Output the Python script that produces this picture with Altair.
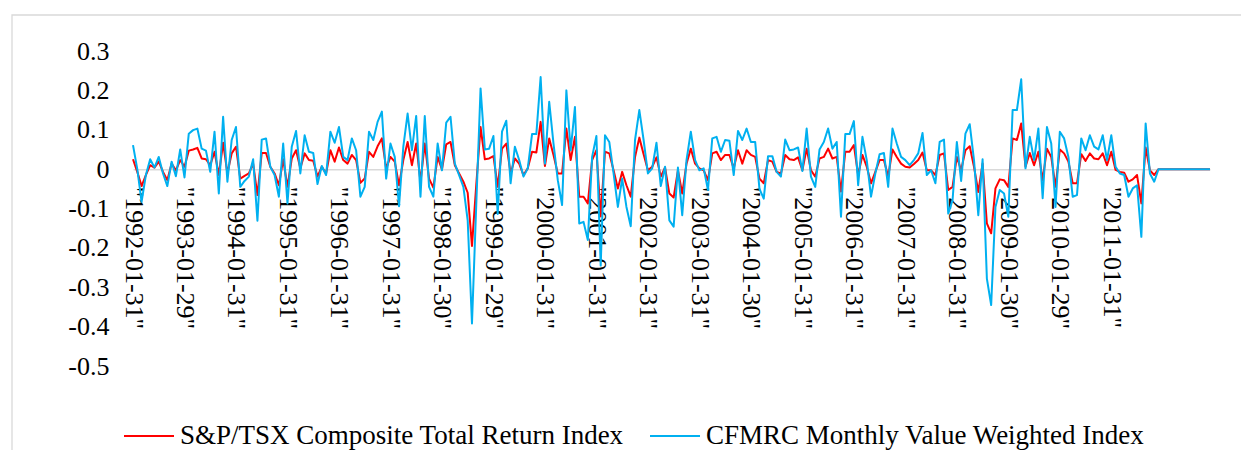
import altair as alt
import pandas as pd

# ---------------- data ----------------
year_labels = ['"1992-01-31"', '"1993-01-29"', '"1994-01-31"', '"1995-01-31"',
               '"1996-01-31"', '"1997-01-31"', '"1998-01-30"', '"1999-01-29"',
               '"2000-01-31"', '"2001-01-31"', '"2002-01-31"', '"2003-01-31"',
               '"2004-01-30"', '"2005-01-31"', '"2006-01-31"', '"2007-01-31"',
               '"2008-01-31"', '"2009-01-30"', '"2010-01-29"', '"2011-01-31"']
months_per_label = 12

series_names = ["S&P/TSX Composite Total Return Index",
                "CFMRC Monthly Value Weighted Index"]
series_colors = ["#FF0000", "#00B0F0"]

tsx_returns = [
    0.025, -0.007, -0.043, -0.015, 0.010, 0.004, 0.019, -0.007, -0.028, 0.014, -0.003, 0.023,
    0.006, 0.047, 0.050, 0.054, 0.027, 0.025, 0.010, 0.044, -0.015, 0.067, -0.011, 0.040,
    0.057, -0.024, -0.017, -0.011, 0.014, -0.066, 0.041, 0.041, 0.006, -0.011, -0.041, 0.025,
    -0.045, 0.027, 0.048, 0.002, 0.040, 0.023, 0.021, -0.019, 0.006, -0.011, 0.048, 0.019,
    0.055, 0.023, 0.014, 0.036, 0.023, -0.035, -0.024, 0.044, 0.031, 0.058, 0.078, 0.002,
    0.031, 0.019, -0.041, 0.023, 0.069, 0.010, 0.065, -0.032, 0.065, -0.024, -0.047, 0.031,
    -0.001, 0.063, 0.069, 0.010, -0.011, -0.032, -0.060, -0.195, -0.040, 0.107, 0.025, 0.027,
    0.033, -0.045, 0.052, 0.065, -0.011, 0.027, 0.014, -0.015, 0.002, 0.044, 0.042, 0.120,
    0.008, 0.078, 0.036, -0.011, -0.011, 0.103, 0.023, 0.082, -0.070, -0.070, -0.087, 0.023,
    0.048, -0.120, 0.044, 0.040, -0.003, -0.049, -0.007, -0.041, -0.070, 0.031, 0.080, 0.038,
    -0.003, 0.006, 0.030, -0.019, 0.004, -0.062, -0.072, -0.003, -0.062, 0.014, 0.052, 0.014,
    0.002, -0.003, -0.028, 0.040, 0.044, 0.023, 0.036, 0.036, 0.002, 0.048, 0.014, 0.048,
    0.036, 0.031, -0.024, -0.036, 0.023, 0.019, -0.007, -0.011, 0.036, 0.025, 0.023, 0.030,
    -0.003, 0.052, -0.003, -0.019, 0.027, 0.031, 0.052, 0.027, 0.031, -0.057, 0.044, 0.044,
    0.061, -0.015, 0.036, 0.006, -0.036, -0.007, 0.023, 0.023, -0.019, 0.050, 0.031, 0.014,
    0.006, 0.004, 0.013, 0.023, 0.042, -0.003, -0.003, -0.015, 0.036, 0.040, -0.053, -0.045,
    0.031, -0.003, 0.048, 0.058, 0.006, -0.058, 0.014, -0.138, -0.163, -0.049, -0.026, -0.028,
    -0.045, 0.078, 0.074, 0.116, 0.006, 0.041, 0.010, 0.044, -0.028, 0.052, 0.031, -0.045,
    0.050, 0.040, 0.019, -0.036, -0.036, 0.038, 0.021, 0.040, 0.027, 0.025, 0.040, 0.010,
    0.044, -0.002, -0.007, -0.009, -0.032, -0.026, -0.015, -0.087, 0.055, -0.003, -0.015, 0.0,
    0.0, 0.0, 0.0, 0.0, 0.0, 0.0, 0.0, 0.0, 0.0, 0.0, 0.0, 0.0,
]

cfmrc_returns = [
    0.061, 0.000, -0.083, -0.015, 0.025, 0.004, 0.031, -0.011, -0.043, 0.019, -0.018, 0.050,
    -0.021, 0.090, 0.099, 0.103, 0.052, 0.047, -0.007, 0.095, -0.062, 0.133, -0.032, 0.074,
    0.107, -0.045, -0.030, -0.019, 0.025, -0.131, 0.075, 0.078, 0.006, -0.015, -0.070, 0.065,
    -0.087, 0.057, 0.097, -0.011, 0.086, 0.044, 0.041, -0.038, 0.008, -0.015, 0.095, 0.067,
    0.107, 0.031, 0.023, 0.078, 0.048, -0.070, -0.045, 0.095, 0.074, 0.120, 0.146, -0.024,
    0.065, 0.031, -0.094, 0.057, 0.141, 0.048, 0.135, -0.070, 0.135, -0.045, -0.070, 0.065,
    -0.003, 0.118, 0.133, 0.014, -0.015, -0.045, -0.130, -0.392, -0.090, 0.205, 0.050, 0.052,
    0.084, -0.114, 0.095, 0.123, -0.036, 0.057, 0.023, -0.019, 0.002, 0.089, 0.089, 0.234,
    0.014, 0.171, 0.065, -0.028, -0.091, 0.200, 0.048, 0.158, -0.138, -0.134, -0.180, 0.031,
    0.084, -0.245, 0.086, 0.069, -0.011, -0.096, -0.024, -0.096, -0.145, 0.074, 0.150, 0.074,
    -0.011, 0.002, 0.067, -0.043, 0.006, -0.130, -0.146, 0.004, -0.117, 0.023, 0.095, 0.023,
    -0.003, 0.002, -0.053, 0.078, 0.082, 0.044, 0.074, 0.072, -0.015, 0.097, 0.074, 0.103,
    0.069, 0.069, -0.050, -0.075, 0.033, 0.033, -0.007, -0.019, 0.075, 0.048, 0.050, 0.055,
    -0.005, 0.103, -0.019, -0.045, 0.050, 0.069, 0.103, 0.052, 0.069, -0.121, 0.089, 0.089,
    0.122, -0.041, 0.082, 0.023, -0.070, -0.011, 0.038, 0.041, -0.045, 0.103, 0.065, 0.031,
    0.023, 0.010, 0.023, 0.040, 0.092, -0.015, -0.003, -0.036, 0.069, 0.075, -0.113, -0.079,
    0.069, -0.030, 0.090, 0.114, 0.023, -0.117, 0.025, -0.278, -0.345, -0.096, -0.053, -0.062,
    -0.121, 0.150, 0.150, 0.228, 0.002, 0.082, 0.023, 0.103, -0.074, 0.107, 0.065, -0.096,
    0.095, 0.078, 0.031, -0.070, -0.066, 0.078, 0.048, 0.086, 0.057, 0.050, 0.086, 0.023,
    0.086, 0.006, -0.011, -0.015, -0.070, -0.049, -0.041, -0.172, 0.116, -0.011, -0.032, 0.0,
    0.0, 0.0, 0.0, 0.0, 0.0, 0.0, 0.0, 0.0, 0.0, 0.0, 0.0, 0.0,
]

y_ticks = [-0.5, -0.4, -0.3, -0.2, -0.1, 0.0, 0.1, 0.2, 0.3]
y_min, y_max = -0.5, 0.3

# ---------------- layout ----------------
PLOT_W, PLOT_H = 1077, 315
PAD = {"left": 125, "top": 43, "right": 31, "bottom": 84}
FONT = "'Liberation Serif', 'Times New Roman', Times, 'DejaVu Serif', serif"
FS = 26
TEXT_COLOR = "#000000"

n = len(tsx_returns)
df = pd.DataFrame({
    "month": list(range(n)) * 2,
    "series": [series_names[0]] * n + [series_names[1]] * n,
    "value": tsx_returns + cfmrc_returns,
})

labels_js = "[" + ",".join("'" + s + "'" for s in year_labels) + "]"
zero_offset = -PLOT_H * (0 - y_min) / (y_max - y_min)

x_enc = alt.X(
    "month:Q",
    scale=alt.Scale(domain=[0, n - 1], nice=False, zero=False),
    axis=alt.Axis(
        values=list(range(0, months_per_label * len(year_labels), months_per_label)),
        labelExpr=f"{labels_js}[round(datum.value / {months_per_label})]",
        labelAngle=90, labelAlign="left", labelBaseline="middle",
        labelPadding=17, ticks=False, tickSize=0,
        domain=True, domainColor="#D9D9D9", domainWidth=1.5,
        grid=False, offset=zero_offset, title=None, zindex=0,
        labelFont=FONT, labelFontSize=FS, labelColor=TEXT_COLOR,
        labelOverlap=False, labelFlush=False, labelBound=False,
    ),
)

y_enc = alt.Y(
    "value:Q",
    scale=alt.Scale(domain=[y_min, y_max], nice=False, zero=False),
    axis=alt.Axis(
        values=y_ticks,
        labelExpr="abs(datum.value) < 1e-9 ? '0' : (datum.value < 0 ? '-' + format(-datum.value, '.1f') : format(datum.value, '.1f'))",
        domain=False, ticks=False, grid=False, labelPadding=24, title=None,
        labelFont=FONT, labelFontSize=FS, labelColor=TEXT_COLOR,
    ),
)

color_enc = alt.Color(
    "series:N",
    scale=alt.Scale(domain=series_names, range=series_colors),
    legend=alt.Legend(
        orient="none", direction="horizontal", legendX=-10, legendY=359,
        title=None, symbolType="stroke", symbolSize=2500, symbolStrokeWidth=2,
        labelFont=FONT, labelFontSize=27, labelColor=TEXT_COLOR, labelLimit=800,
        columnPadding=22, labelOffset=5, padding=0,
    ),
)

base = alt.Chart(df).encode(x=x_enc, y=y_enc, color=color_enc)

red_line = base.transform_filter(alt.datum.series == series_names[0]).mark_line(
    strokeWidth=2, strokeJoin="round")
blue_line = base.transform_filter(alt.datum.series == series_names[1]).mark_line(
    strokeWidth=2, strokeJoin="round")

border = alt.Chart(pd.DataFrame({"k": [0]})).mark_rect(
    filled=False, stroke="#D9D9D9", strokeWidth=1.3
).encode(
    x=alt.value(-121), x2=alt.value(1400),
    y=alt.value(-36), y2=alt.value(600),
)

chart = alt.layer(border, red_line, blue_line).properties(
    width=PLOT_W, height=PLOT_H,
    autosize=alt.AutoSizeParams(type="none"),
    padding=PAD,
).configure_view(stroke=None)

chart.save("out.html", embed_options={"renderer": "svg", "actions": False})
